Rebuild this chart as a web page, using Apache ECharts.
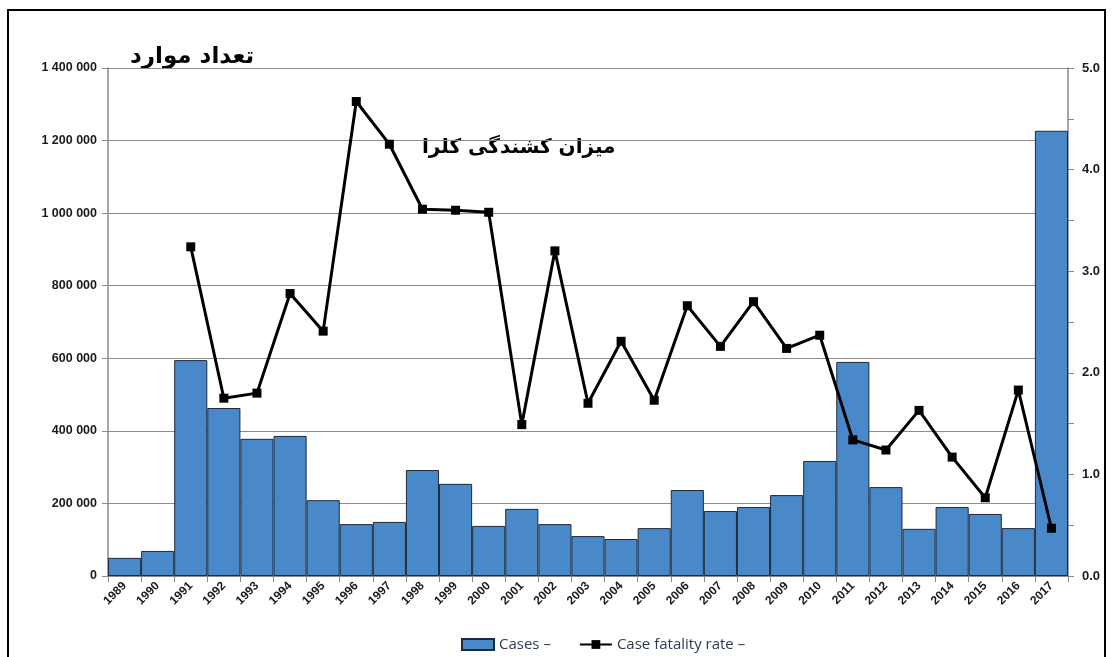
<!DOCTYPE html>
<html>
<head>
<meta charset="utf-8">
<script src="https://cdn.jsdelivr.net/npm/echarts@6/dist/echarts.min.js"></script>
<style>
  html, body { margin: 0; padding: 0; background: #fff; }
  #main { width: 1114px; height: 657px; }
</style>
</head>
<body>
<div id="main"></div>
<script>
// سال ها
var years = ['1989', '1990', '1991', '1992', '1993', '1994', '1995', '1996', '1997', '1998',
  '1999', '2000', '2001', '2002', '2003', '2004', '2005', '2006', '2007', '2008',
  '2009', '2010', '2011', '2012', '2013', '2014', '2015', '2016', '2017'];

// تعداد موارد
var cases = [50000, 69000, 595000, 463000, 378000, 386000, 209000, 143000, 149000, 292000,
  254000, 138000, 185000, 143000, 110000, 102000, 132000, 237000, 179000, 190000,
  223000, 317000, 590000, 245000, 130000, 190000, 171000, 132000, 1227000];

// میزان کشندگی (%)
var cfr = [null, null, 3.24, 1.75, 1.80, 2.78, 2.41, 4.67, 4.25, 3.61,
  3.60, 3.58, 1.49, 3.20, 1.70, 2.31, 1.73, 2.66, 2.26, 2.70,
  2.24, 2.37, 1.34, 1.24, 1.63, 1.17, 0.77, 1.83, 0.47];

var leftTicks = [0, 1400000];
var rightTicks = [0, 5];

var chart = echarts.init(document.getElementById('main'));

function spaced(v) {
  // 1400000 -> "1 400 000"
  return String(v).replace(/\B(?=(\d{3})+(?!\d))/g, ' ');
}

var labelFont = 'Liberation Sans, Arial, sans-serif';

chart.setOption({
  animation: false,
  backgroundColor: '#fff',
  textStyle: { fontFamily: labelFont },
  grid: { left: 108, right: 46, top: 68, bottom: 81 },
  graphic: [
    {
      type: 'rect',
      shape: { x: 8, y: 10, width: 1097, height: 680 },
      style: { fill: 'none', stroke: '#000', lineWidth: 2 },
      silent: true
    },
    {
      type: 'text',
      left: 130, top: 46,
      style: { text: 'تعداد موارد', font: 'bold 23px "DejaVu Sans", "Noto Sans", sans-serif', fill: '#000' }
    },
    {
      type: 'text',
      left: 422, top: 138,
      style: { text: 'میزان کشندگی کلرا', font: 'bold 20px "DejaVu Sans", "Noto Sans", sans-serif', fill: '#000' }
    }
  ],
  legend: {
    bottom: 0,
    left: 456,
    itemGap: 28,
    itemWidth: 32,
    itemHeight: 11,
    textStyle: { fontSize: 15, color: '#2f3b52', fontFamily: 'Open Sans, sans-serif' },
    data: [
      { name: 'Cases –', icon: 'rect' },
      { name: 'Case fatality rate –' }
    ]
  },
  xAxis: {
    type: 'category',
    data: years,
    boundaryGap: true,
    axisLine: { lineStyle: { color: '#888', width: 1.5 } },
    axisTick: { show: true, length: 6, lineStyle: { color: '#888' } },
    axisLabel: { rotate: 45, fontSize: 12, fontWeight: 'bold', color: '#1a1a1a', margin: 8 }
  },
  yAxis: [
    {
      type: 'value',
      min: leftTicks[0],
      max: leftTicks[1],
      interval: 200000,
      axisLine: { show: true, lineStyle: { color: '#888', width: 1.5 } },
      axisTick: { show: true, length: 6, lineStyle: { color: '#888' } },
      splitLine: { lineStyle: { color: '#8c8c8c', width: 1 } },
      axisLabel: { formatter: spaced, fontSize: 12.5, fontWeight: 'bold', color: '#1a1a1a', margin: 11 }
    },
    {
      type: 'value',
      min: rightTicks[0],
      max: rightTicks[1],
      interval: 1,
      position: 'right',
      axisLine: { show: true, lineStyle: { color: '#888', width: 1.5 } },
      axisTick: { show: true, length: 6, lineStyle: { color: '#888' } },
      minorTick: { show: true, splitNumber: 2, length: 6, lineStyle: { color: '#888' } },
      splitLine: { show: false },
      axisLabel: {
        formatter: function (v) { return v.toFixed(1); },
        fontSize: 13, fontWeight: 'bold', color: '#1a1a1a', margin: 14
      }
    }
  ],
  series: [
    {
      name: 'Cases –',
      type: 'bar',
      data: cases,
      barCategoryGap: '0%',
      itemStyle: { color: '#4a89c9', borderColor: '#1e2a3a', borderWidth: 1 },
      z: 2
    },
    {
      name: 'Case fatality rate –',
      type: 'line',
      yAxisIndex: 1,
      data: cfr,
      symbol: 'rect',
      symbolSize: 9,
      connectNulls: false,
      lineStyle: { color: '#000', width: 3 },
      itemStyle: { color: '#000' },
      z: 3
    }
  ]
});
</script>
</body>
</html>
